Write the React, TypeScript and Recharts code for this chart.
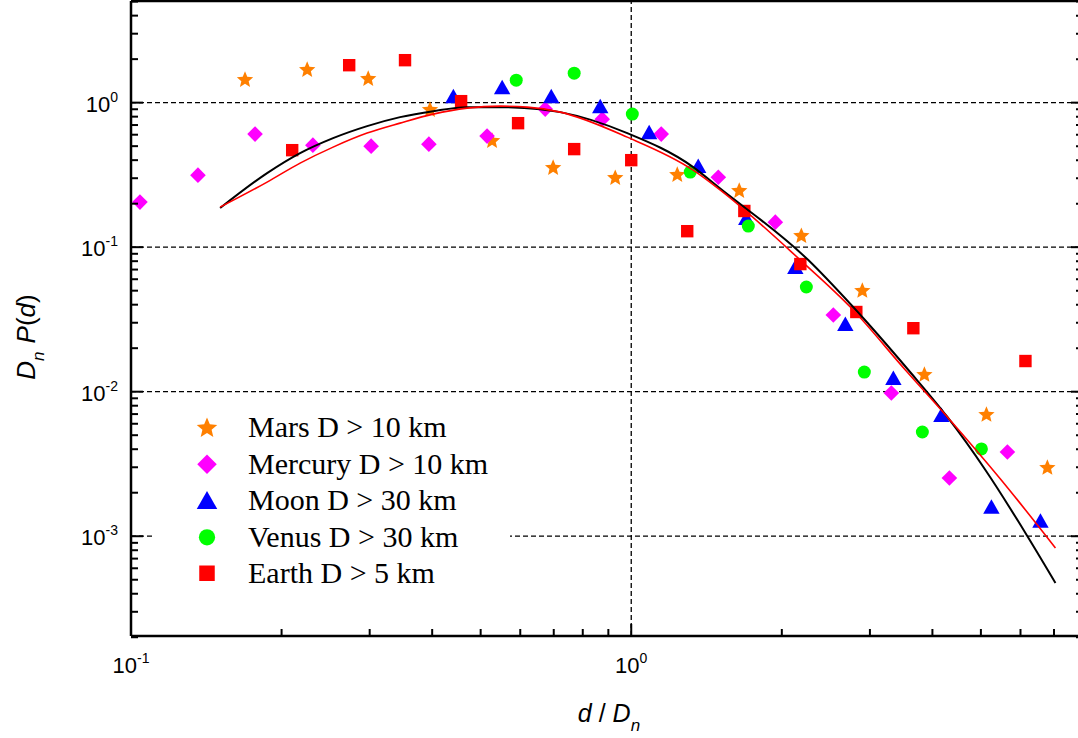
import { ScatterChart, Scatter, XAxis, YAxis, ReferenceLine, Legend } from 'recharts'

// crater data (x = d / Dn, y = Dn P(d))
const MARS_X = [0.169, 0.225, 0.298, 0.396, 0.527, 0.698, 0.929, 1.236, 1.644, 2.188, 2.897, 3.855, 5.129, 6.79]
const MARS_Y = [1.454, 1.705, 1.477, 0.902, 0.55, 0.358, 0.305, 0.32, 0.248, 0.121, 0.0505, 0.01325, 0.00701, 0.00301]

const MERCURY_X = [0.1042, 0.1361, 0.177, 0.231, 0.302, 0.394, 0.515, 0.673, 0.875, 1.148, 1.493, 1.941, 2.535, 3.311, 4.325, 5.649]
const MERCURY_Y = [0.205, 0.315, 0.606, 0.508, 0.5, 0.516, 0.587, 0.902, 0.769, 0.606, 0.305, 0.149, 0.0339, 0.0098, 0.00253, 0.00383]

const MOON_X = [0.441, 0.552, 0.692, 0.867, 1.086, 1.361, 1.698, 2.128, 2.679, 3.342, 4.169, 5.248, 6.577]
const MOON_Y = [1.109, 1.28, 1.109, 0.946, 0.625, 0.364, 0.159, 0.0728, 0.0294, 0.01244, 0.0069, 0.0016, 0.00128]

const VENUS_X = [0.589, 0.769, 1.005, 1.312, 1.714, 2.239, 2.924, 3.819, 5.012]
const VENUS_Y = [1.431, 1.6, 0.833, 0.331, 0.14, 0.053, 0.01368, 0.00526, 0.00402]

const EARTH_X = [0.21, 0.273, 0.353, 0.457, 0.594, 0.769, 1.0, 1.294, 1.683, 2.178, 2.818, 3.664, 6.138]
const EARTH_Y = [0.469, 1.816, 1.967, 1.024, 0.721, 0.477, 0.4, 0.129, 0.178, 0.0764, 0.0356, 0.0275, 0.0163]

// fitted curves
const FIT_BLACK_X = [0.1507, 0.1871, 0.2178, 0.2535, 0.2965, 0.3451, 0.4018, 0.4699, 0.547, 0.6577, 0.7211, 0.9817, 1.33, 1.493, 2.259, 2.754, 3.581, 4.285, 5.105, 6.194, 7.047]
const FIT_BLACK_Y = [0.1864, 0.3254, 0.4474, 0.568, 0.688, 0.7937, 0.8733, 0.9309, 0.9309, 0.9016, 0.8597, 0.6154, 0.358, 0.2603, 0.0814, 0.03978, 0.01413, 0.006685, 0.002873, 0.001, 0.000475]

const FIT_RED_X = [0.1507, 0.1871, 0.2178, 0.2535, 0.2965, 0.3451, 0.4018, 0.4699, 0.547, 0.6194, 0.7211, 0.9817, 1.33, 1.507, 2.178, 2.754, 3.532, 4.285, 5.47, 7.047]
const FIT_RED_Y = [0.1893, 0.282, 0.3815, 0.4923, 0.6154, 0.7216, 0.8327, 0.9161, 0.9458, 0.9309, 0.8597, 0.5773, 0.3413, 0.2482, 0.0814, 0.0379, 0.01413, 0.006685, 0.00249, 0.00083]

const X_TICKS = [0.1, 0.2, 0.3, 0.4, 0.5, 0.6, 0.7, 0.8, 0.9, 1, 2, 3, 4, 5, 6, 7, 8]
const Y_TICKS = [
  0.0002, 0.0003, 0.0004, 0.0005, 0.0006, 0.0007, 0.0008, 0.0009,
  0.001, 0.002, 0.003, 0.004, 0.005, 0.006, 0.007, 0.008, 0.009,
  0.01, 0.02, 0.03, 0.04, 0.05, 0.06, 0.07, 0.08, 0.09,
  0.1, 0.2, 0.3, 0.4, 0.5, 0.6, 0.7, 0.8, 0.9,
  1, 2, 3, 4, 5,
]
const X_GRID = [1]
const Y_GRID = [0.001, 0.01, 0.1, 1]

const X_DOMAIN = [0.1, 8]
const Y_DOMAIN = [0.000204, 5.05]

const SANS = '"Liberation Sans", Arial, sans-serif'
const SERIF = '"Liberation Serif", "Times New Roman", serif'

const pts = (xs: number[], ys: number[]) => xs.map((x, i) => ({ x, y: ys[i] }))

type ShapeKind = 'star' | 'diamond' | 'triangle' | 'circle' | 'square'

const SERIES: { name: string; color: string; shape: ShapeKind; xs: number[]; ys: number[] }[] = [
  { name: 'Mars D > 10 km', color: '#FF8000', shape: 'star', xs: MARS_X, ys: MARS_Y },
  { name: 'Mercury D > 10 km', color: '#FF00FF', shape: 'diamond', xs: MERCURY_X, ys: MERCURY_Y },
  { name: 'Moon D > 30 km', color: '#0000FF', shape: 'triangle', xs: MOON_X, ys: MOON_Y },
  { name: 'Venus D > 30 km', color: '#00FF00', shape: 'circle', xs: VENUS_X, ys: VENUS_Y },
  { name: 'Earth D > 5 km', color: '#FF0000', shape: 'square', xs: EARTH_X, ys: EARTH_Y },
]

function Marker({ kind, cx, cy, color, k = 1 }: { kind: ShapeKind; cx: number; cy: number; color: string; k?: number }) {
  if (kind === 'star') {
    const R = 8.6 * k
    const r = R * 0.45
    let d = ''
    for (let i = 0; i < 10; i++) {
      const rad = i % 2 === 0 ? R : r
      const a = -Math.PI / 2 + (i * Math.PI) / 5
      d += (i === 0 ? 'M' : 'L') + (cx + rad * Math.cos(a)).toFixed(2) + ',' + (cy + 0.8 * k + rad * Math.sin(a)).toFixed(2)
    }
    return <path d={d + 'Z'} fill={color} />
  }
  if (kind === 'diamond') {
    const h = 7.8 * k
    return <path d={`M${cx},${cy - h}L${cx + h},${cy}L${cx},${cy + h}L${cx - h},${cy}Z`} fill={color} />
  }
  if (kind === 'triangle') {
    const w = 8.2 * k
    return <path d={`M${cx},${cy - 7.5 * k}L${cx + w},${cy + 7 * k}L${cx - w},${cy + 7 * k}Z`} fill={color} />
  }
  if (kind === 'circle') return <circle cx={cx} cy={cy} r={6.5 * k} fill={color} />
  const s = 6.2 * k
  return <rect x={cx - s} y={cy - s} width={2 * s} height={2 * s} fill={color} />
}

const isMajor = (v: number) => {
  const e = Math.log10(v)
  return Math.abs(e - Math.round(e)) < 1e-9
}
const exponent = (v: number) => String(Math.round(Math.log10(v)))

function BottomTick(props: any) {
  const { x, y, payload } = props
  const major = isMajor(payload.value)
  return (
    <g>
      <line x1={x} x2={x} y1={y} y2={y - (major ? 12 : 7)} stroke="#000" strokeWidth={2} />
      {major && (
        <text x={x} y={y + 37} textAnchor="middle" fontSize={22} fontFamily={SANS} fill="#000">
          10<tspan dy={-10} fontSize={14}>{exponent(payload.value)}</tspan>
        </text>
      )}
    </g>
  )
}

function TopTick(props: any) {
  const { x, y, payload } = props
  const major = isMajor(payload.value)
  return <line x1={x} x2={x} y1={y} y2={y + (major ? 12 : 7)} stroke="#000" strokeWidth={2} />
}

function LeftTick(props: any) {
  const { x, y, payload } = props
  const major = isMajor(payload.value)
  return (
    <g>
      <line x1={x} x2={x + (major ? 12 : 7)} y1={y} y2={y} stroke="#000" strokeWidth={2} />
      {major && (
        <text x={x - 13} y={y + 9} textAnchor="end" fontSize={22} fontFamily={SANS} fill="#000">
          10<tspan dy={-10} fontSize={14}>{exponent(payload.value)}</tspan>
        </text>
      )}
    </g>
  )
}

function RightTick(props: any) {
  const { x, y, payload } = props
  const major = isMajor(payload.value)
  return <line x1={x} x2={x - (major ? 12 : 7)} y1={y} y2={y} stroke="#000" strokeWidth={2} />
}

function XTitle(props: any) {
  const { x, y } = props.viewBox
  return (
    <text x={x + 478} y={y + 86} textAnchor="middle" fontSize={25} fontFamily={SANS} fill="#000">
      <tspan fontStyle="italic">d</tspan> / <tspan fontStyle="italic">D</tspan>
      <tspan fontStyle="italic" fontSize={17} dy={9}>n</tspan>
    </text>
  )
}

function YTitle(props: any) {
  const { x, y, width } = props.viewBox
  const tx = x + width - 96
  const ty = y + 336
  return (
    <text x={tx} y={ty} transform={`rotate(-90 ${tx} ${ty})`} textAnchor="middle" fontSize={26} fontFamily={SANS} fill="#000">
      <tspan fontStyle="italic">D</tspan>
      <tspan fontStyle="italic" fontSize={17} dy={9}>n</tspan>
      <tspan dy={-9} dx={8} fontStyle="italic">P</tspan>(<tspan fontStyle="italic">d</tspan>)
    </text>
  )
}

function LegendBox() {
  return (
    <div style={{ background: '#fff', width: 355, height: 183 }}>
      {SERIES.map((s) => (
        <div key={s.name} style={{ display: 'flex', alignItems: 'center', height: 36.5 }}>
          <svg width={93} height={36.5} style={{ flex: 'none' }}>
            <Marker kind={s.shape} cx={52} cy={18.25} color={s.color} k={1.25} />
          </svg>
          <span style={{ fontFamily: SERIF, fontSize: 30, color: '#000', whiteSpace: 'nowrap', lineHeight: '36.5px' }}>
            {s.name}
          </span>
        </div>
      ))}
    </div>
  )
}

const axisLine = { stroke: '#000', strokeWidth: 2.5 }

export default function App() {
  return (
    <div style={{ position: 'absolute', left: 0, top: 0, width: 1078, height: 738, background: '#fff' }}>
      <ScatterChart width={1078} height={738} margin={{ top: 0, right: -6, bottom: 42, left: 71 }}>
        <XAxis
          type="number"
          dataKey="x"
          scale="log"
          domain={X_DOMAIN}
          allowDataOverflow
          ticks={X_TICKS}
          interval={0}
          height={60}
          tickSize={0}
          tickMargin={0}
          tickLine={false}
          axisLine={axisLine}
          tick={(p: any) => <BottomTick {...p} />}
          label={{ content: (p: any) => <XTitle {...p} /> }}
        />
        <XAxis
          xAxisId="top"
          orientation="top"
          type="number"
          scale="log"
          domain={X_DOMAIN}
          allowDataOverflow
          ticks={X_TICKS}
          interval={0}
          height={1}
          tickSize={0}
          tickMargin={0}
          tickLine={false}
          axisLine={axisLine}
          tick={(p: any) => <TopTick {...p} />}
        />
        <YAxis
          type="number"
          dataKey="y"
          scale="log"
          domain={Y_DOMAIN}
          allowDataOverflow
          ticks={Y_TICKS}
          interval={0}
          width={60}
          tickSize={0}
          tickMargin={0}
          tickLine={false}
          axisLine={axisLine}
          tick={(p: any) => <LeftTick {...p} />}
          label={{ content: (p: any) => <YTitle {...p} /> }}
        />
        <YAxis
          yAxisId="right"
          orientation="right"
          type="number"
          scale="log"
          domain={Y_DOMAIN}
          allowDataOverflow
          ticks={Y_TICKS}
          interval={0}
          width={1}
          tickSize={0}
          tickMargin={0}
          tickLine={false}
          axisLine={axisLine}
          tick={(p: any) => <RightTick {...p} />}
        />
        {Y_GRID.map((v) => (
          <ReferenceLine key={'gy' + v} y={v} stroke="#000" strokeWidth={1.3} strokeDasharray="5 3" />
        ))}
        {X_GRID.map((v) => (
          <ReferenceLine key={'gx' + v} x={v} stroke="#000" strokeWidth={1.3} strokeDasharray="5 3" />
        ))}
        {SERIES.map((s) => (
          <Scatter
            key={s.name}
            name={s.name}
            data={pts(s.xs, s.ys)}
            fill={s.color}
            isAnimationActive={false}
            shape={(p: any) => <Marker kind={s.shape} cx={p.cx} cy={p.cy} color={s.color} />}
          />
        ))}
        <Scatter
          name="fit black"
          data={pts(FIT_BLACK_X, FIT_BLACK_Y)}
          line={{ stroke: '#000', strokeWidth: 2 }}
          lineJointType="monotoneX"
          shape={() => <g />}
          legendType="none"
          isAnimationActive={false}
        />
        <Scatter
          name="fit red"
          data={pts(FIT_RED_X, FIT_RED_Y)}
          line={{ stroke: '#FF0000', strokeWidth: 1.6 }}
          lineJointType="monotoneX"
          shape={() => <g />}
          legendType="none"
          isAnimationActive={false}
        />
        <Legend
          layout="vertical"
          align="center"
          verticalAlign="middle"
          wrapperStyle={{ left: 155, top: 409, width: 355, height: 183 }}
          content={() => <LegendBox />}
        />
      </ScatterChart>
    </div>
  )
}
